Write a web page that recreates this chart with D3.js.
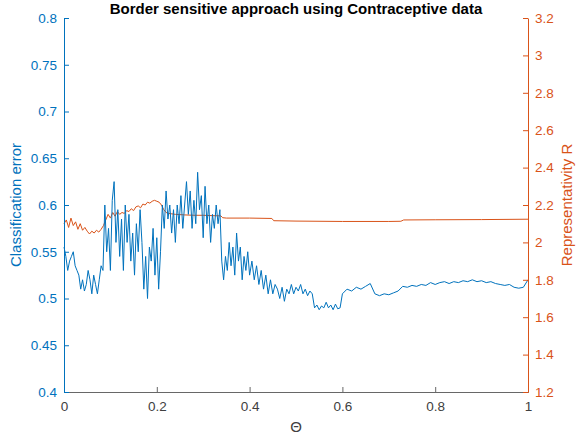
<!DOCTYPE html>
<html><head><meta charset="utf-8">
<script src="https://cdn.jsdelivr.net/npm/d3@7"></script>
<style>body{margin:0;background:#fff}svg{display:block}text{font-family:"Liberation Sans",Arial,Helvetica,sans-serif}</style>
</head><body><svg id="c" width="576" height="438"></svg>
<script>
const errX0 = 0, errStep1 = 0.004;
const errVals1 = [0.555,0.545,0.53,0.54,0.545,0.55,0.535,0.53,0.525,0.51,0.52,0.508,0.515,0.53,0.52,0.505,0.525,0.515,0.505,0.52,0.535,
0.53,0.6,0.55,0.575,0.53,0.605,0.625,0.56,0.595,0.545,0.585,0.53,0.6,0.56,0.59,0.54,0.57,0.525,0.58,0.55,0.595,0.56,0.51,0.545,0.5,0.555,0.54,0.575,0.525,0.565,0.51,0.55,0.6,0.575,0.615,0.585,0.6,0.57,0.595,0.56,0.6,0.58,0.61,0.575,0.6,0.625,0.59,0.615,0.575,0.605,0.58,0.635,0.595,0.61,0.565,0.62,0.58,0.6,0.56,0.59,0.575,0.6,0.58,0.595,0.54,0.52,0.545,0.53,0.56,0.535,0.555,0.525,0.57,0.54,0.555,0.52,0.545,0.53,0.55,0.525];
const errVals2 = [0.54,0.52,0.535,0.515,0.53,0.51,0.525,0.505,0.52,0.505,0.515,0.51,0.5,0.512,0.497,0.51,0.505,0.515,0.505,0.512,0.508,0.515,0.505,0.51,0.503,0.508,0.505,0.49,0.493,0.488,0.492,0.49,0.496,0.49,0.493,0.488,0.494,0.489,0.49,0.505];
const errVals3 = [0.51,0.508,0.512,0.51,0.513,0.516,0.505,0.503,0.505,0.504,0.506,0.508,0.513,0.512,0.514,0.513,0.515,0.514,0.517,0.515,0.517,0.518,0.516,0.518,0.517,0.519,0.518,0.52,0.518,0.519,0.517,0.518,0.516,0.515,0.514,0.515,0.512,0.511,0.512,0.52];
const repX = [0,0.005,0.01,0.015,0.02,0.025,0.03,0.035,0.04,0.045,0.05,0.055,0.06,0.065,0.07,0.075,0.08,0.085,0.09,0.095,0.1,0.105,0.11,0.115,0.12,0.125,0.13,0.135,0.14,0.145,0.15,0.155,0.16,0.165,0.17,0.175,0.18,0.185,0.19,0.195,0.2,0.205,0.21,0.215,0.22,0.225,0.24,0.26,0.28,0.3,0.32,0.338,0.342,0.35,0.4,0.448,0.452,0.5,0.6,0.7,0.726,0.732,0.8,0.9,1.0];
const repVals = [2.10,2.12,2.08,2.13,2.09,2.11,2.07,2.10,2.065,2.08,2.06,2.045,2.06,2.05,2.065,2.055,2.07,2.09,2.12,2.15,2.13,2.16,2.14,2.165,2.15,2.16,2.155,2.17,2.165,2.18,2.17,2.19,2.195,2.185,2.205,2.2,2.215,2.21,2.22,2.225,2.22,2.215,2.2,2.175,2.16,2.155,2.15,2.147,2.145,2.145,2.143,2.142,2.132,2.13,2.13,2.128,2.116,2.114,2.112,2.112,2.113,2.12,2.121,2.122,2.124];
const xTicks = [0,0.2,0.4,0.6,0.8,1];
const leftTicks = [0.4,0.45,0.5,0.55,0.6,0.65,0.7,0.75,0.8];
const rightTicks = [1.2,1.4,1.6,1.8,2,2.2,2.4,2.6,2.8,3,3.2];

const errData = [];
errVals1.forEach((v,i)=>errData.push([errX0+i*errStep1, v]));
errVals2.forEach((v,i)=>errData.push([0.405+i*0.005, v]));
errVals3.forEach((v,i)=>errData.push([0.61+i*0.01, v]));
const repData = repX.map((x,i)=>[x, repVals[i]]);

const BLUE="#0072BD", ORANGE="#D95319", GRAY="#262626";
const L=64, R=528, T=18, B=392;
const svg = d3.select("#c");
const x = d3.scaleLinear().domain([0,1]).range([L,R]);
const yL = d3.scaleLinear().domain([0.4,0.8]).range([B,T]);
const yR = d3.scaleLinear().domain([1.2,3.2]).range([B,T]);

const line = (ys)=>d3.line().x(d=>x(d[0])).y(d=>ys(d[1]));
svg.append("path").datum(repData).attr("d", line(yR)).attr("fill","none").attr("stroke",ORANGE).attr("stroke-width",1);
svg.append("path").datum(errData).attr("d", line(yL)).attr("fill","none").attr("stroke",BLUE).attr("stroke-width",1);

const fs = "13.5px";
const xAx = svg.append("g").attr("transform",`translate(0,${B})`)
  .call(d3.axisBottom(x).tickValues(xTicks).tickSize(-5).tickPadding(9).tickFormat(d3.format("")));
xAx.selectAll("line").attr("stroke",GRAY).attr("stroke-opacity",0.7);
xAx.select(".domain").attr("stroke",GRAY).attr("stroke-opacity",0.7);
xAx.selectAll("text").attr("fill","#404040").style("font-size",fs).style("font-family","Liberation Sans, Arial");

const lAx = svg.append("g").attr("transform",`translate(${L},0)`)
  .call(d3.axisLeft(yL).tickValues(leftTicks).tickSize(-5).tickPadding(7).tickSizeOuter(0).tickFormat(d3.format("")));
lAx.selectAll("line,.domain").attr("stroke",BLUE);
lAx.selectAll("text").attr("fill",BLUE).style("font-size",fs).style("font-family","Liberation Sans, Arial");

const rAx = svg.append("g").attr("transform",`translate(${R},0)`)
  .call(d3.axisRight(yR).tickValues(rightTicks).tickSize(-5).tickPadding(7).tickSizeOuter(0).tickFormat(d3.format("")));
rAx.selectAll("line,.domain").attr("stroke",ORANGE);
rAx.selectAll("text").attr("fill",ORANGE).style("font-size",fs).style("font-family","Liberation Sans, Arial");

svg.append("text").attr("x",(L+R)/2).attr("y",14).attr("text-anchor","middle")
  .style("font-size","15px").style("font-weight","bold").attr("fill","#000")
  .text("Border sensitive approach using Contraceptive data");
svg.append("text").attr("x",(L+R)/2).attr("y",432).attr("text-anchor","middle")
  .style("font-size","15px").attr("fill","#404040").text("Θ");
svg.append("text").attr("transform",`translate(21,${(T+B)/2}) rotate(-90)`).attr("text-anchor","middle")
  .style("font-size","15px").attr("fill",BLUE).text("Classification error");
svg.append("text").attr("transform",`translate(572,${(T+B)/2}) rotate(-90)`).attr("text-anchor","middle")
  .style("font-size","15px").attr("fill",ORANGE).text("Representativity R");
</script></body></html>
